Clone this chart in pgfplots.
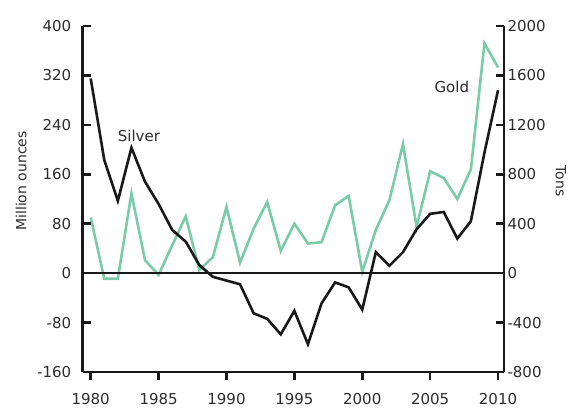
\documentclass[border=0pt]{standalone}
\usepackage{fontspec}
\setmainfont{DejaVu Sans}
\usepackage{pgfplots}
\usepackage{pgfplotstable}
\pgfplotsset{compat=1.18}

\definecolor{goldline}{RGB}{122,204,168}
\definecolor{txt}{RGB}{45,45,45}
\newcommand{\tickfont}{\fontsize{15bp}{18bp}\selectfont}
\newcommand{\labfont}{\fontsize{14bp}{17bp}\selectfont}

% silver: million ounces (left), gold: tons (right)
\pgfplotstableread{
year silver gold
1980 315 450
1981 183 -45
1982 117 -45
1983 203 645
1984 148 105
1985 112 -15
1986 70 225
1987 51 460
1988 13 25
1989 -6 130
1990 -12 535
1991 -18 85
1992 -65 360
1993 -74 575
1994 -99 180
1995 -61 400
1996 -115 240
1997 -49 250
1998 -15 550
1999 -23 625
2000 -59 10
2001 34 350
2002 12 590
2003 34 1045
2004 71 375
2005 96 825
2006 99 770
2007 56 600
2008 84 840
2009 195 1860
2010 296 1665
}\metals

\begin{document}
\begin{tikzpicture}
\pgfplotsset{
  common/.style={
    scale only axis, width=421.3bp, height=346bp,
    xmin=1979.41, xmax=2010.44,
    clip=false,
    axis line style={line width=2.6bp, black!90},
    tick style={line width=2.6bp, black!90},
    major tick length=8bp,
    tick label style={font=\tickfont, text=txt},
    /pgf/number format/assume math mode=true,
  },
}
% right axis: gold in tons
\begin{axis}[common,
    ymin=-800, ymax=2000,
    axis y line*=right, axis x line=none,
    ytick={-800,-400,...,2000},
    yticklabels={-800,-400,0,400,800,1200,1600,2000},
    ytick align=inside,
    ylabel={Tons},
    every axis y label/.style={at={(axis description cs:1.135,0.552)},
      rotate=-90, anchor=center, font=\labfont, text=txt},
  ]
  \addplot[goldline, line width=2.6bp] table[x=year, y=gold]{\metals};
\end{axis}
% left axis: silver in million ounces
\begin{axis}[common,
    ymin=-160, ymax=400,
    axis y line*=left, axis x line*=bottom,
    xtick={1980,1985,...,2010},
    xticklabels={1980,1985,1990,1995,2000,2005,2010},
    ytick={-160,-80,...,400},
    yticklabels={-160,-80,0,80,160,240,320,400},
    xtick align=outside, ytick align=inside,
    xticklabel style={yshift=-10bp},
    yticklabel style={xshift=-8bp},
    ylabel={Million ounces},
    every axis y label/.style={at={(axis description cs:-0.146,0.552)},
      rotate=90, anchor=center, font=\labfont, text=txt},
  ]
  \addplot[black!90, line width=2.6bp] coordinates {(1979.41,0) (2010.44,0)};
  \addplot[black!90, line width=2.6bp] table[x=year, y=silver]{\metals};
  \node[font=\tickfont, text=txt, inner sep=0pt] at (axis cs:1983.55,222.5) {Silver};
  \node[font=\tickfont, text=txt, inner sep=0pt] at (axis cs:2006.6,301) {Gold};
\end{axis}
\pgfresetboundingbox
\path[use as bounding box] (-82.7bp,-37bp) rectangle (493.3bp,372bp);
\end{tikzpicture}
\end{document}
